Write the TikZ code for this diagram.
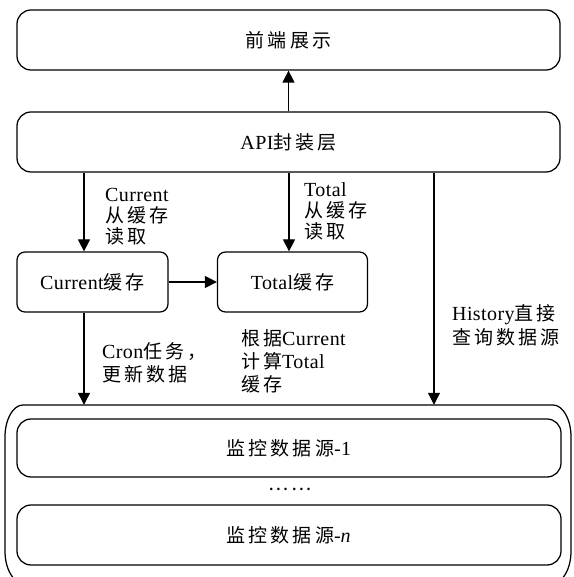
\documentclass[tikz,border=0pt]{standalone}
\usepackage{fontspec}
\setmainfont{Liberation Serif}[LetterSpace=2]
\newfontfamily\cjk{Noto Sans CJK SC}[Scale=0.95,LetterSpace=16]
\usetikzlibrary{arrows.meta}

\begin{document}
\begin{tikzpicture}[x=1pt,y=1pt,
  font=\fontsize{20pt}{22pt}\selectfont,
  every node/.style={inner sep=0pt},
  panel/.style={draw, line width=1.25pt, rounded corners=14pt, minimum height=60pt, minimum width=543pt},
  cache/.style={draw, line width=1.25pt, rounded corners=8pt, minimum height=60pt, minimum width=150pt},
  arr/.style={line width=1.25pt, -{Triangle[width=12pt,length=12pt]}},
  lbl/.style={anchor=west, align=left},
]
\useasboundingbox[fill=white] (0,0) rectangle (573,577);

% layers
\node[panel] (front) at (288.5,537) {{\cjk 前端展示}};
\node[panel] (api) at (288.5,435) {API{\cjk 封装层}};

% caches
\node[cache, minimum width=151pt] (cur) at (92.5,295) {Current{\cjk 缓存}};
\node[cache] (tot) at (292.5,295) {Total{\cjk 缓存}};

% monitoring data sources, grouped in an outer frame
\node[minimum width=566pt, minimum height=178pt] (outer) at (288,83) {};
\draw[line width=1.25pt] (23,172) -- (553,172)
  arc[start angle=90, end angle=0, x radius=18, y radius=32] -- (571,26)
  arc[start angle=0, end angle=-90, x radius=18, y radius=32] -- (23,-6)
  arc[start angle=270, end angle=180, x radius=18, y radius=32] -- (5,140)
  arc[start angle=180, end angle=90, x radius=18, y radius=32] -- cycle;
\node[panel, minimum width=544pt, minimum height=58pt] (src1) at (289,129) {{\cjk 监控数据源}-1};
\node (dots) at (290,88) {{\cjk ……}};
\node[panel, minimum width=544pt] (srcn) at (289,42) {{\cjk 监控数据源}-\textit{n}};

% connector columns
\coordinate (xl) at (84,0);
\coordinate (xm) at (289,0);
\coordinate (xr) at (434,0);

\draw[arr] (api) -- (front);
\draw[arr] (xl |- api.south) -- (xl |- cur.north);
\draw[arr] (xm |- api.south) -- (xm |- tot.north);
\draw[arr] (xr |- api.south) -- (xr |- outer.north);
\draw[arr] (cur) -- (tot);
\draw[arr] (xl |- cur.south) -- (xl |- outer.north);

% labels
\node[lbl, font=\fontsize{20pt}{21pt}\selectfont] (lcur) at (105,360) {Current\\{\cjk 从缓存}\\{\cjk 读取}};
\node[lbl, font=\fontsize{20pt}{21pt}\selectfont] (ltot) at (304,366) {Total\\{\cjk 从缓存}\\{\cjk 读取}};
\node[lbl, font=\fontsize{20pt}{23pt}\selectfont] (lcron) at (102,214.5) {Cron{\cjk 任务，}\\{\cjk 更新数据}};
\node[lbl, font=\fontsize{20pt}{23pt}\selectfont] (lcalc) at (241,216) {{\cjk 根据}Current\\{\cjk 计算}Total\\{\cjk 缓存}};
\node[lbl, font=\fontsize{20pt}{24pt}\selectfont] (lhist) at (452,252) {History{\cjk 直接}\\{\cjk 查询数据源}};
\end{tikzpicture}
\end{document}
